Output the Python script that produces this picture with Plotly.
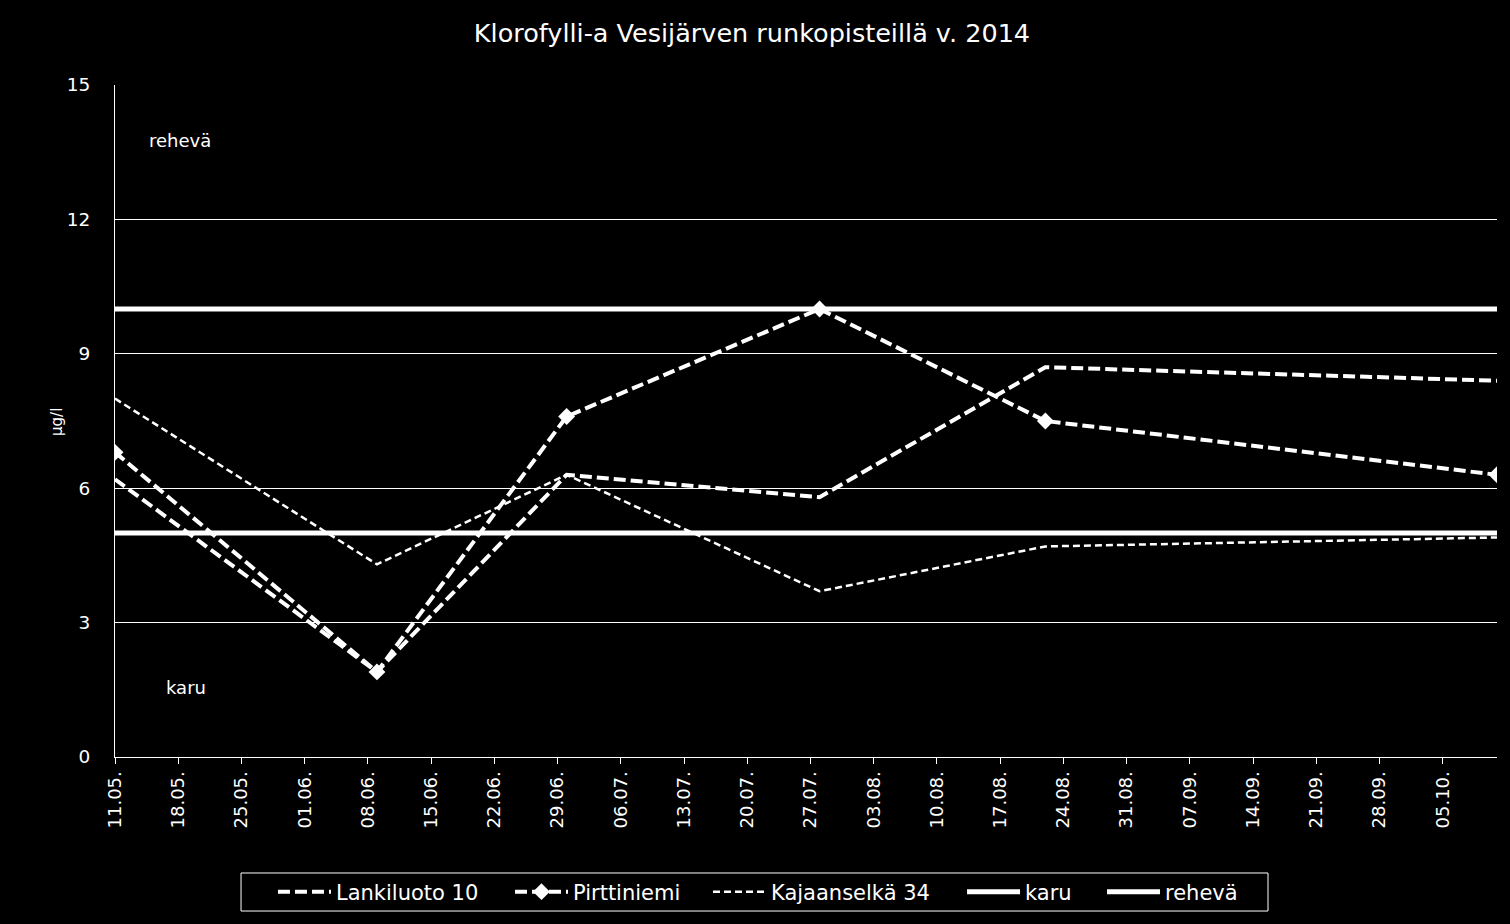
import plotly.graph_objects as go

dates = ["2014-05-11", "2014-06-09", "2014-06-30", "2014-07-28", "2014-08-22", "2014-10-11"]
lankiluoto = [6.2, 1.9, 6.3, 5.8, 8.7, 8.4]
pirttiniemi = [6.8, 1.9, 7.6, 10.0, 7.5, 6.3]
kajaanselka = [8.0, 4.3, 6.3, 3.7, 4.7, 4.9]
karu = [5, 5, 5, 5, 5, 5]
reheva = [10, 10, 10, 10, 10, 10]

tick_dates = ["2014-05-11", "2014-05-18", "2014-05-25", "2014-06-01", "2014-06-08", "2014-06-15",
              "2014-06-22", "2014-06-29", "2014-07-06", "2014-07-13", "2014-07-20", "2014-07-27",
              "2014-08-03", "2014-08-10", "2014-08-17", "2014-08-24", "2014-08-31", "2014-09-07",
              "2014-09-14", "2014-09-21", "2014-09-28", "2014-10-05"]
tick_labels = ["11.05.", "18.05.", "25.05.", "01.06.", "08.06.", "15.06.", "22.06.", "29.06.",
               "06.07.", "13.07.", "20.07.", "27.07.", "03.08.", "10.08.", "17.08.", "24.08.",
               "31.08.", "07.09.", "14.09.", "21.09.", "28.09.", "05.10."]

FONT = "DejaVu Sans"
fig = go.Figure()
fig.add_trace(go.Scatter(x=dates, y=lankiluoto, name="Lankiluoto 10", mode="lines", legend="legend",
                         line=dict(color="white", width=4, dash="12px,5px")))
fig.add_trace(go.Scatter(x=dates, y=pirttiniemi, name="Pirttiniemi", mode="lines+markers", legend="legend2",
                         line=dict(color="white", width=4, dash="12px,5px"),
                         marker=dict(symbol="diamond", size=13, color="white")))
fig.add_trace(go.Scatter(x=dates, y=kajaanselka, name="Kajaanselkä 34", mode="lines", legend="legend3",
                         line=dict(color="white", width=2.5, dash="7px,4px")))
fig.add_trace(go.Scatter(x=dates, y=karu, name="karu", mode="lines", legend="legend4",
                         line=dict(color="white", width=5)))
fig.add_trace(go.Scatter(x=dates, y=reheva, name="rehevä", mode="lines", legend="legend5",
                         line=dict(color="white", width=5)))


def leg(x):
    return dict(orientation="h", x=x, xanchor="left", y=-0.2009, yanchor="middle",
                borderwidth=0, bgcolor="rgba(0,0,0,0)", itemwidth=53,
                font=dict(size=21, color="white", family=FONT))


fig.update_layout(
    width=1510, height=924,
    paper_bgcolor="black", plot_bgcolor="black",
    margin=dict(l=115, r=13, t=85, b=167),
    font=dict(family=FONT, color="white", size=18),
    title=dict(text="Klorofylli-a Vesijärven runkopisteillä v. 2014", x=0.498, xanchor="center",
               y=0.964, yanchor="middle", font=dict(size=25.5, color="white", family=FONT)),
    showlegend=True,
    legend=leg(0.1143), legend2=leg(0.2858), legend3=leg(0.4291),
    legend4=leg(0.6129), legend5=leg(0.7142),
    xaxis=dict(type="date", range=["2014-05-11", "2014-10-11"], tickvals=tick_dates,
               ticktext=tick_labels, tickangle=-90, ticks="outside", ticklen=6, tickcolor="white",
               showline=True, linecolor="white", linewidth=1, showgrid=False, zeroline=False,
               tickfont=dict(size=18, color="white", family=FONT)),
    yaxis=dict(range=[0, 15], dtick=3, tick0=0, showgrid=True, gridcolor="white", gridwidth=1,
               showline=True, linecolor="white", linewidth=1, zeroline=False, ticks="",
               ticklabelstandoff=20, tickfont=dict(size=18.5, color="white", family=FONT)),
)

# legend frame
fig.add_shape(type="rect", xref="paper", yref="paper", x0=0.0912, x1=0.8343, y0=-0.1726, y1=-0.2292,
              line=dict(color="white", width=1), fillcolor="rgba(0,0,0,0)")

fig.add_annotation(text="rehevä", xref="paper", yref="paper", x=0.047, y=0.918,
                   xanchor="center", yanchor="middle",
                   showarrow=False, font=dict(size=18, color="white", family=FONT))
fig.add_annotation(text="karu", xref="paper", yref="paper", x=0.0514, y=0.1027,
                   xanchor="center", yanchor="middle",
                   showarrow=False, font=dict(size=18, color="white", family=FONT))
fig.add_annotation(text="µg/l", xref="paper", yref="paper", x=-0.042, y=0.4985,
                   xanchor="center", yanchor="middle",
                   showarrow=False, textangle=-90, font=dict(size=15, color="white", family=FONT))

fig.write_html("out.html")
